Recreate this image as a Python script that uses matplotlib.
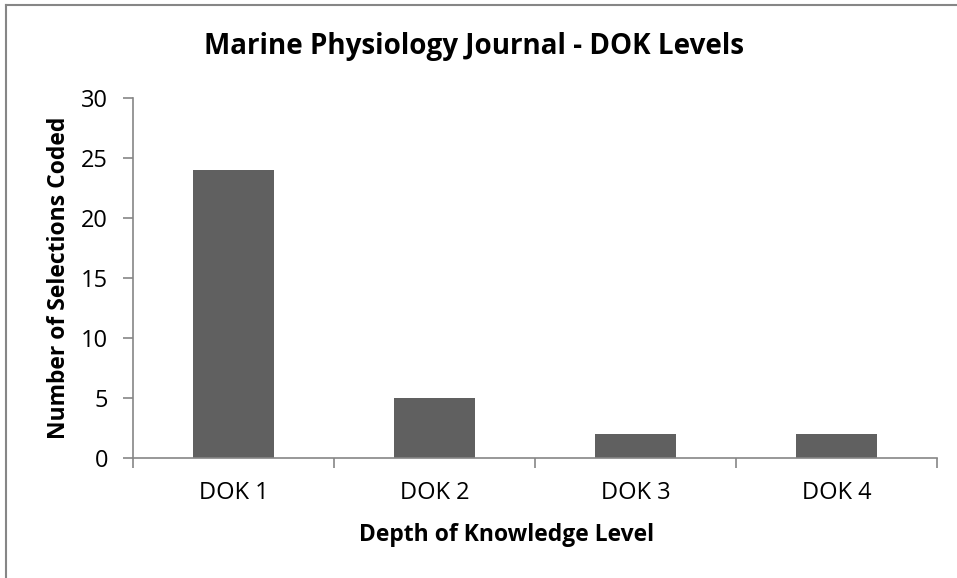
import matplotlib.pyplot as plt
from matplotlib.lines import Line2D

categories = ['DOK 1', 'DOK 2', 'DOK 3', 'DOK 4']
counts = [24, 5, 2, 2]

plt.rcParams['font.family'] = ['Open Sans', 'DejaVu Sans']

fig = plt.figure(figsize=(9.57, 5.78), dpi=100)
ax = fig.add_axes([0.139, 0.2076, 0.840, 0.6228])

x = range(len(categories))
ax.bar(x, counts, width=0.4, color='#606060', zorder=2)

ax.set_xlim(-0.5, 3.5)
ax.set_ylim(0, 30)
ax.set_yticks([0, 5, 10, 15, 20, 25, 30])
ax.set_xticks(list(x))
ax.set_xticklabels(categories)
ax.set_xticks([-0.5, 0.5, 1.5, 2.5, 3.5], minor=True)
ax.tick_params(axis='x', which='major', length=0, pad=16.5, labelsize=17)
ax.tick_params(axis='x', which='minor', length=7, width=1.2, color='#868686')
ax.tick_params(axis='y', length=7, width=1.2, color='#868686', labelsize=17, pad=11)

for s in ['top', 'right']:
    ax.spines[s].set_visible(False)
for s in ['left', 'bottom']:
    ax.spines[s].set_color('#868686')
    ax.spines[s].set_linewidth(1.2)

# title is centred on the chart area, not the plot area
fig.text(0.495, 0.920, 'Marine Physiology Journal - DOK Levels', fontsize=20,
         fontweight='bold', ha='center', va='center')
ax.set_xlabel('Depth of Knowledge Level', fontsize=16.5, fontweight='bold')
ax.xaxis.label.set_va('center')
ax.xaxis.set_label_coords(0.465, -0.213)
ax.set_ylabel('Number of Selections Coded', fontsize=16.5, fontweight='bold', labelpad=7)

# chart frame (left and top edges visible)
fig.add_artist(Line2D([0.0065, 0.0065], [0, 0.991], color='#868686', lw=1.5, transform=fig.transFigure))
fig.add_artist(Line2D([0.0065, 1.0], [0.991, 0.991], color='#868686', lw=1.5, transform=fig.transFigure))

plt.savefig('out.png', dpi=100)
